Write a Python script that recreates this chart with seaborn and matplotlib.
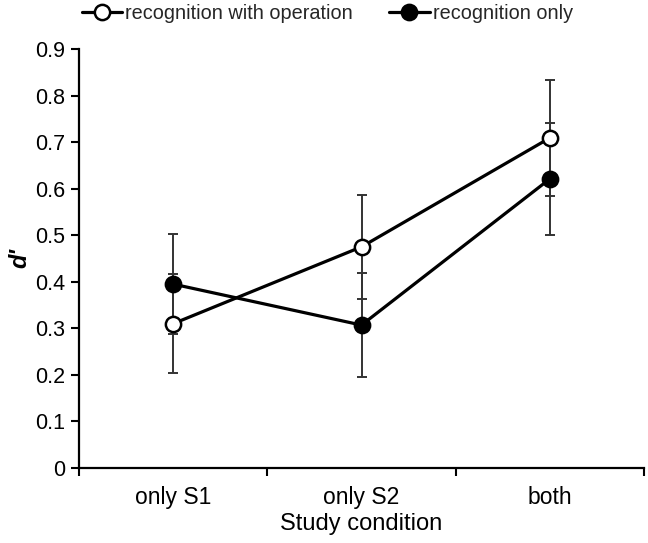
import matplotlib
matplotlib.use("Agg")
import matplotlib.pyplot as plt
import seaborn as sns
import pandas as pd
import numpy as np
from matplotlib.lines import Line2D

conditions = ["only S1", "only S2", "both"]
with_operation = [0.310, 0.475, 0.709]
with_operation_err = [0.107, 0.112, 0.125]
recog_only = [0.395, 0.307, 0.621]
recog_only_err = [0.108, 0.112, 0.120]
series_names = ["recognition with operation", "recognition only"]
y_ticks = [0, 0.1, 0.2, 0.3, 0.4, 0.5, 0.6, 0.7, 0.8, 0.9]
y_tick_labels = ["0", "0.1", "0.2", "0.3", "0.4", "0.5", "0.6", "0.7", "0.8", "0.9"]

sns.set_theme(style="white")
plt.rcParams['font.family'] = ['Liberation Sans', 'DejaVu Sans']

df = pd.DataFrame({
    "cond": conditions * 2,
    "x": list(range(len(conditions))) * 2,
    "d": with_operation + recog_only,
    "err": with_operation_err + recog_only_err,
    "series": [series_names[0]] * 3 + [series_names[1]] * 3,
})

fig = plt.figure(figsize=(6.48, 5.43), dpi=100)
ax = fig.add_axes([79/648, 1 - 468/543, (644 - 79)/648, (468 - 49)/543])

# error bars
for name in series_names:
    sub = df[df.series == name]
    ax.errorbar(sub.x, sub.d, yerr=sub.err, fmt="none", ecolor="#333333",
                elinewidth=1.4, capsize=3.6, capthick=1.4, zorder=2)

sns.lineplot(data=df, x="x", y="d", hue="series", style="series",
             palette={series_names[0]: "black", series_names[1]: "black"},
             markers={series_names[0]: "o", series_names[1]: "o"},
             dashes=False, linewidth=2.3, markersize=11, ax=ax, zorder=3,
             legend=False)
sns_lines = [l for l in ax.get_lines() if len(l.get_xdata()) == 3 and l.get_marker() == "o"]
sns_lines[0].set_markerfacecolor("white")
sns_lines[0].set_markeredgecolor("black")
sns_lines[0].set_markeredgewidth(1.8)
sns_lines[1].set_markerfacecolor("black")
sns_lines[1].set_markeredgecolor("black")
sns_lines[1].set_markeredgewidth(1.8)

ax.set_xlim(-0.5, 2.5)
ax.set_ylim(0, 0.9)
ax.set_yticks(y_ticks)
ax.set_yticklabels(y_tick_labels)
ax.set_xticks([-0.5, 0.5, 1.5, 2.5])
ax.set_xticklabels([])
ax.set_xticks([0, 1, 2], minor=True)
ax.set_xticklabels(conditions, minor=True)
ax.tick_params(axis="x", which="major", direction="out", length=6, width=1.5, color="black", bottom=True)
ax.tick_params(axis="x", which="minor", length=0, labelsize=16.5, pad=13, colors="black")
ax.tick_params(axis="y", direction="out", length=6, width=1.5, color="black", left=True, labelsize=15.5, pad=4, labelcolor="black")

for s in ["top", "right"]:
    ax.spines[s].set_visible(False)
for s in ["left", "bottom"]:
    ax.spines[s].set_color("black")
    ax.spines[s].set_linewidth(1.6)

ax.set_xlabel("Study condition", fontsize=17, labelpad=3, color="black")
ax.set_ylabel("d'", fontsize=17, fontstyle="italic", fontweight="bold", color="black")
ax.yaxis.set_label_coords((31 - 79) / 565, 0.5)
ax.grid(False)

handles = [
    Line2D([], [], color="black", lw=2.3, marker="o", markersize=11,
           markerfacecolor="white", markeredgecolor="black", markeredgewidth=1.8),
    Line2D([], [], color="black", lw=2.3, marker="o", markersize=11,
           markerfacecolor="black", markeredgecolor="black", markeredgewidth=1.8),
]
fig.legend(handles, series_names, loc="center", bbox_to_anchor=(0.505, 0.975),
           ncol=2, frameon=False, fontsize=14.3, handlelength=2.06, handletextpad=0.15,
           columnspacing=1.8, borderpad=0, borderaxespad=0)

fig.savefig("out.png", dpi=100)
